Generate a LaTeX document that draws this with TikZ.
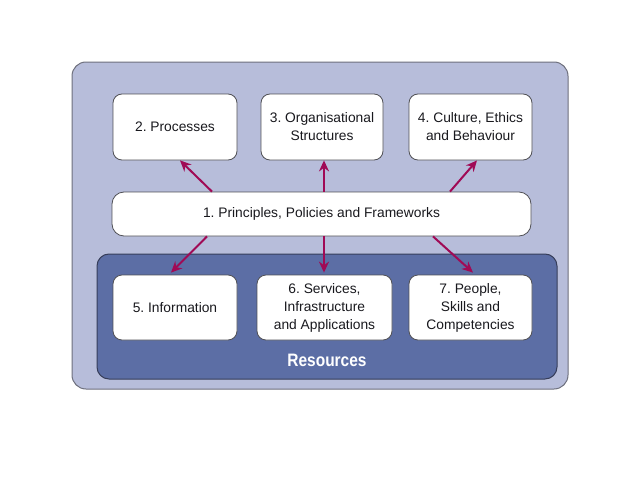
\documentclass[tikz,border=0pt]{standalone}
\usepackage{fontspec}
\setmainfont{Liberation Sans}
\newfontfamily\resfont[FakeStretch=0.86]{Liberation Sans}
\usetikzlibrary{arrows.meta}
\frenchspacing
\definecolor{outerfill}{RGB}{183,189,218}
\definecolor{outerdraw}{RGB}{110,112,125}
\definecolor{resfill}{RGB}{92,110,165}
\definecolor{resdraw}{RGB}{55,62,90}
\definecolor{arrowc}{RGB}{160,10,85}
\definecolor{boxdraw}{RGB}{80,80,85}
\definecolor{txt}{RGB}{25,25,30}
\tikzset{
  wbox/.style={draw=boxdraw, line width=0.8pt, fill=white, rounded corners=9pt,
    align=center, font=\fontsize{13.8}{18}\selectfont\frenchspacing, text=txt, inner sep=0pt},
  conn/.style={draw=arrowc, line width=2pt, -{Stealth[length=11pt,width=10pt]}}
}
\begin{document}
\begin{tikzpicture}[x=1pt,y=-1pt]
\useasboundingbox (0,0) rectangle (638,479);
\fill[white] (0,0) rectangle (638,479);
\node[draw=outerdraw, line width=1pt, fill=outerfill, rounded corners=14pt,
  minimum width=496pt, minimum height=327pt, inner sep=0pt] (outer) at (320,225.5) {};
\node[draw=resdraw, line width=1pt, fill=resfill, rounded corners=12pt,
  minimum width=460pt, minimum height=125pt, inner sep=0pt] (res) at (327,316.5) {};
\node[text=white, font=\resfont\fontsize{18}{20}\selectfont\bfseries] (reslabel) at (327,360) {Resources};
\node[wbox, minimum width=124pt, minimum height=66pt] (p2) at (175,127) {2. Processes};
\node[wbox, minimum width=122pt, minimum height=66pt] (p3) at (322,127) {3. Organisational\\Structures};
\node[wbox, minimum width=123pt, minimum height=66pt] (p4) at (470.5,127) {4. Culture, Ethics\\and Behaviour};
\node[wbox, minimum width=419pt, minimum height=44pt, rounded corners=12pt] (p1) at (321.5,214) {1. Principles, Policies and Frameworks};
\node[wbox, minimum width=124pt, minimum height=65pt] (p5) at (175,307.5) {5. Information};
\node[wbox, minimum width=135pt, minimum height=65pt] (p6) at (324.5,307.5) {6. Services,\\Infrastructure\\and Applications};
\node[wbox, minimum width=123pt, minimum height=65pt] (p7) at (470.5,307.5) {7. People,\\Skills and\\Competencies};
\coordinate (a1s) at (212,0);
\coordinate (a1e) at (180,0);
\draw[conn] (a1s |- p1.north) -- (a1e |- p2.south);
\coordinate (a2) at (324,0);
\draw[conn] (a2 |- p1.north) -- (a2 |- p3.south);
\coordinate (a3s) at (450,0);
\coordinate (a3e) at (477,0);
\draw[conn] (a3s |- p1.north) -- (a3e |- p4.south);
\coordinate (b1s) at (207,0);
\coordinate (b1e) at (171,0);
\draw[conn] (b1s |- p1.south) -- ([yshift=2pt]b1e |- p5.north);
\coordinate (b2s) at (324,0);
\draw[conn] (b2s |- p1.south) -- ([yshift=2pt]b2s |- p6.north);
\coordinate (b3s) at (433,0);
\coordinate (b3e) at (473,0);
\draw[conn] (b3s |- p1.south) -- ([yshift=2pt]b3e |- p7.north);
\end{tikzpicture}
\end{document}
